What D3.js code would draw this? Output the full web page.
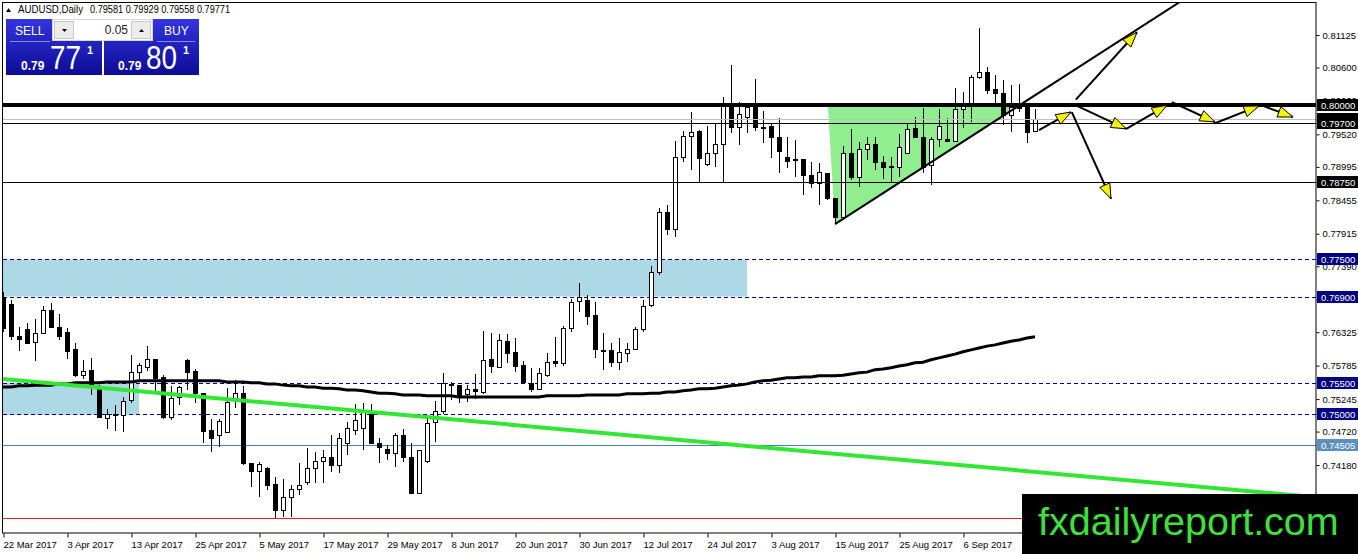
<!DOCTYPE html>
<html>
<head>
<meta charset="utf-8">
<script src="https://cdn.jsdelivr.net/npm/d3@7"></script>
<style>
  body { margin: 0; background: #fff; }
  svg { display: block; }
  text { font-family: "Liberation Sans", Arial, sans-serif; }
</style>
</head>
<body>
<svg id="canvas"></svg>
<script>
// AUDUSD daily candles, one row per bar: [open, high, low, close]
let candles = [
  [0.7689,0.7697,0.7633,0.7639],[0.7678,0.7685,0.7620,0.7626],[0.7626,0.7641,0.7602,0.7622],[0.7638,0.7647,0.7613,0.7615],
  [0.7617,0.7654,0.7586,0.7631],[0.7631,0.7675,0.7630,0.7668],[0.7668,0.7680,0.7639,0.7641],[0.7641,0.7662,0.7620,0.7626],
  [0.7633,0.7639,0.7589,0.7602],[0.7605,0.7615,0.7560,0.7563],[0.7563,0.7588,0.7557,0.7570],[0.7572,0.7591,0.7531,0.7547],
  [0.7546,0.7547,0.7494,0.7496],[0.7494,0.7509,0.7476,0.7500],[0.7500,0.7515,0.7473,0.7499],[0.7499,0.7528,0.7471,0.7521],
  [0.7523,0.7596,0.7518,0.7568],[0.7568,0.7583,0.7557,0.7580],[0.7576,0.7610,0.7570,0.7589],[0.7589,0.7590,0.7536,0.7559],
  [0.7560,0.7563,0.7492,0.7496],[0.7496,0.7546,0.7491,0.7526],[0.7528,0.7546,0.7515,0.7544],[0.7588,0.7589,0.7539,0.7568],
  [0.7570,0.7573,0.7518,0.7534],[0.7534,0.7535,0.7453,0.7473],[0.7475,0.7492,0.7439,0.7462],[0.7466,0.7492,0.7447,0.7489],
  [0.7471,0.7542,0.7470,0.7520],[0.7526,0.7555,0.7510,0.7534],[0.7534,0.7546,0.7418,0.7421],[0.7421,0.7422,0.7382,0.7408],
  [0.7408,0.7423,0.7366,0.7420],[0.7413,0.7414,0.7378,0.7386],[0.7387,0.7399,0.7332,0.7345],[0.7345,0.7395,0.7334,0.7366],
  [0.7366,0.7386,0.7334,0.7379],[0.7379,0.7421,0.7370,0.7386],[0.7391,0.7446,0.7386,0.7413],[0.7413,0.7439,0.7389,0.7424],
  [0.7424,0.7442,0.7389,0.7431],[0.7431,0.7466,0.7407,0.7418],[0.7418,0.7470,0.7405,0.7462],[0.7453,0.7488,0.7434,0.7478],
  [0.7475,0.7517,0.7467,0.7491],[0.7478,0.7518,0.7442,0.7507],[0.7502,0.7517,0.7452,0.7454],[0.7454,0.7462,0.7421,0.7447],
  [0.7444,0.7450,0.7426,0.7437],[0.7437,0.7470,0.7415,0.7466],[0.7466,0.7476,0.7423,0.7431],[0.7431,0.7453,0.7372,0.7373],
  [0.7373,0.7443,0.7372,0.7442],[0.7424,0.7494,0.7421,0.7486],[0.7488,0.7521,0.7455,0.7505],[0.7505,0.7567,0.7500,0.7551],
  [0.7549,0.7552,0.7523,0.7548],[0.7547,0.7548,0.7518,0.7529],[0.7533,0.7547,0.7520,0.7541],[0.7541,0.7565,0.7525,0.7538],
  [0.7536,0.7634,0.7533,0.7588],[0.7589,0.7631,0.7567,0.7578],[0.7576,0.7630,0.7575,0.7620],[0.7618,0.7630,0.7583,0.7599],
  [0.7600,0.7623,0.7568,0.7578],[0.7580,0.7586,0.7550,0.7552],[0.7550,0.7575,0.7536,0.7541],[0.7541,0.7575,0.7539,0.7567],
  [0.7563,0.7599,0.7560,0.7584],[0.7586,0.7625,0.7576,0.7583],[0.7583,0.7643,0.7578,0.7639],[0.7639,0.7686,0.7633,0.7681],
  [0.7683,0.7712,0.7665,0.7689],[0.7685,0.7693,0.7644,0.7659],[0.7660,0.7681,0.7591,0.7605],[0.7604,0.7631,0.7572,0.7602],
  [0.7604,0.7615,0.7576,0.7584],[0.7584,0.7623,0.7572,0.7600],[0.7599,0.7615,0.7584,0.7605],[0.7605,0.7641,0.7604,0.7638],
  [0.7638,0.7685,0.7633,0.7675],[0.7676,0.7739,0.7673,0.7730],[0.7730,0.7833,0.7725,0.7827],[0.7827,0.7838,0.7790,0.7799],
  [0.7799,0.7941,0.7786,0.7916],[0.7916,0.7957,0.7907,0.7949],[0.7949,0.7988,0.7895,0.7956],[0.7957,0.7959,0.7874,0.7914],
  [0.7904,0.7966,0.7901,0.7922],[0.7922,0.7970,0.7899,0.7936],[0.7936,0.8012,0.7874,0.8003],[0.8003,0.8064,0.7954,0.7964],
  [0.7964,0.8004,0.7935,0.7985],[0.7980,0.8003,0.7954,0.7996],[0.7998,0.8041,0.7957,0.7964],[0.7964,0.7990,0.7938,0.7963],
  [0.7966,0.7970,0.7914,0.7948],[0.7948,0.7978,0.7890,0.7925],[0.7916,0.7948,0.7898,0.7909],[0.7912,0.7943,0.7883,0.7911],
  [0.7912,0.7913,0.7854,0.7886],[0.7886,0.7907,0.7865,0.7874],[0.7874,0.7906,0.7838,0.7891],[0.7890,0.7890,0.7846,0.7849],
  [0.7849,0.7850,0.7809,0.7819],[0.7819,0.7933,0.7817,0.7922],[0.7922,0.7961,0.7878,0.7883],[0.7883,0.7940,0.7867,0.7928],
  [0.7928,0.7948,0.7911,0.7936],[0.7936,0.7948,0.7895,0.7907],[0.7907,0.7917,0.7880,0.7899],[0.7901,0.7916,0.7874,0.7899],
  [0.7899,0.7953,0.7883,0.7932],[0.7922,0.7970,0.7921,0.7961],[0.7962,0.7980,0.7947,0.7948],[0.7948,0.7995,0.7890,0.7899],
  [0.7903,0.7948,0.7870,0.7945],[0.7945,0.7993,0.7932,0.7966],[0.7945,0.7978,0.7940,0.7941],[0.7941,0.8027,0.7940,0.7993],
  [0.7993,0.8020,0.7962,0.7998],[0.7998,0.8048,0.7972,0.8045],[0.8045,0.8124,0.8041,0.8053],[0.8053,0.8061,0.8017,0.8024],
  [0.8025,0.8048,0.8003,0.8019],[0.8019,0.8040,0.7967,0.7983],[0.7983,0.8032,0.7956,0.7996],[0.8003,0.8033,0.7988,0.7995],
  [0.7999,0.8000,0.7938,0.7956],[0.79581,0.79929,0.79558,0.79771]
]

// moving average, one value per bar
let movingAverage = [
  0.7544,0.7544,0.7546,0.7546,0.7547,0.7547,0.7547,0.7549,0.7549,0.7551,
  0.7551,0.7551,0.7551,0.7552,0.7552,0.7552,0.7552,0.7554,0.7554,0.7554,
  0.7554,0.7554,0.7554,0.7554,0.7554,0.7554,0.7554,0.7554,0.7552,0.7552,
  0.7552,0.7551,0.7551,0.7549,0.7549,0.7547,0.7546,0.7546,0.7544,0.7544,
  0.7542,0.7542,0.7541,0.7539,0.7539,0.7538,0.7536,0.7534,0.7534,0.7533,
  0.7531,0.7531,0.7531,0.7530,0.7530,0.7530,0.7530,0.7528,0.7528,0.7528,
  0.7528,0.7528,0.7528,0.7528,0.7528,0.7528,0.7528,0.7528,0.7530,0.7530,
  0.7530,0.7530,0.7530,0.7531,0.7531,0.7531,0.7531,0.7531,0.7533,0.7533,
  0.7533,0.7534,0.7534,0.7536,0.7536,0.7538,0.7539,0.7541,0.7541,0.7542,
  0.7544,0.7546,0.7547,0.7549,0.7552,0.7554,0.7555,0.7557,0.7559,0.7559,
  0.7560,0.7560,0.7562,0.7562,0.7562,0.7563,0.7565,0.7567,0.7568,0.7572,
  0.7573,0.7575,0.7578,0.7580,0.7583,0.7584,0.7588,0.7591,0.7594,0.7597,
  0.7601,0.7604,0.7607,0.7610,0.7612,0.7615,0.7618,0.7620,0.7623,0.7625
]

let header = ['AUDUSD,Daily', '0.79581 0.79929 0.79558 0.79771']

let dateLabels = ['22 Mar 2017', '3 Apr 2017', '13 Apr 2017', '25 Apr 2017', '5 May 2017', '17 May 2017',
                  '29 May 2017', '8 Jun 2017', '20 Jun 2017', '30 Jun 2017', '12 Jul 2017', '24 Jul 2017',
                  '3 Aug 2017', '15 Aug 2017', '25 Aug 2017', '6 Sep 2017']
let dateTickBars = [0, 8, 16, 24, 32, 40, 48, 56, 64, 72, 80, 88, 96, 104, 112, 120]

let priceTicks = [0.81125, 0.80600, 0.80060, 0.79520, 0.78995, 0.78455, 0.77915, 0.77390,
                  0.76850, 0.76325, 0.75785, 0.75245, 0.74720, 0.74180, 0.73640]

// horizontal levels
let thickLevel = 0.80000
let bidLevel = 0.79771
let solidLevels = [0.79700, 0.78750]
let dashedLevels = [0.77500, 0.76900, 0.75500, 0.75000]
let blueLevel = 0.74505
let redLevel = 0.73320

// zones: [fromBar, toBar, topPrice, bottomPrice]
let zones = [[-5, 93, 0.7750, 0.7690], [-5, 17, 0.7551, 0.7499]]

// triangle and trend lines: [bar, price]
let triangle = [[103.1, 0.8000], [104, 0.7807], [127.3, 0.8001]]
let risingLine = [[104, 0.7807], [150, 0.8190]]
let greenLine = [[0, 0.7557], [165, 0.7365]]

// arrows: [fromBar, fromPrice, toBar, toPrice]
let arrows = [
  [134.1, 0.8008, 141.75, 0.8117],
  [133.6, 0.7988, 138.5, 0.7848],
  [129.5, 0.7959, 133.5, 0.7988],
  [134.25, 0.7998, 140.4, 0.7961],
  [140.4, 0.7961, 145.5, 0.7999],
  [146.1, 0.8004, 151.5, 0.7972],
  [151.5, 0.7970, 157, 0.7998],
  [157.5, 0.7998, 161.25, 0.7980]
]

let width = 1358
let height = 554
let plotLeft = 3
let plotRight = 1316
let plotTop = 3
let plotBottom = 533

let canvas = d3.select('#canvas')
               .attr('width', width)
               .attr('height', height)

let xScale = d3.scaleLinear().domain([0, 129]).range([3, 1035])
let yScale = d3.scaleLinear().domain([0.74180, 0.81125]).range([465, 35])

canvas.append('defs').append('clipPath')
      .attr('id', 'plot-clip')
      .append('rect')
      .attr('x', plotLeft)
      .attr('y', plotTop)
      .attr('width', plotRight - plotLeft)
      .attr('height', plotBottom - plotTop)

let plot = canvas.append('g').attr('clip-path', 'url(#plot-clip)')

// background objects
plot.selectAll('rect.zone')
    .data(zones)
    .enter()
    .append('rect')
    .attr('class', 'zone')
    .attr('x', d => xScale(d[0]))
    .attr('y', d => yScale(d[2]))
    .attr('width', d => xScale(d[1]) - xScale(d[0]))
    .attr('height', d => yScale(d[3]) - yScale(d[2]))
    .attr('fill', '#add8e6')

plot.append('polygon')
    .attr('points', triangle.map(d => xScale(d[0]) + ',' + yScale(d[1])).join(' '))
    .attr('fill', '#90ee90')

// horizontal levels
let hline = (price, color, w, dash) => {
  let yy = Math.round(yScale(price)) + (w % 2 ? 0.5 : 0)
  plot.append('line')
      .attr('x1', plotLeft).attr('x2', plotRight)
      .attr('y1', yy).attr('y2', yy)
      .attr('stroke', color)
      .attr('stroke-width', w)
      .attr('stroke-dasharray', dash || null)
}

hline(redLevel, '#e02020', 1)
hline(blueLevel, '#4682b4', 1)
dashedLevels.forEach(p => hline(p, '#000080', 1, '4,3'))

// candles
let bars = plot.selectAll('g.bar')
               .data(candles)
               .enter()
               .append('g')
               .attr('class', 'bar')

bars.append('line')
    .attr('x1', (d, i) => Math.round(xScale(i)) + 0.5)
    .attr('x2', (d, i) => Math.round(xScale(i)) + 0.5)
    .attr('y1', d => Math.round(yScale(d[1])))
    .attr('y2', d => Math.round(yScale(d[2])))
    .attr('stroke', '#000')

bars.append('rect')
    .attr('x', (d, i) => Math.round(xScale(i)) - 2 + 0.5)
    .attr('y', d => Math.round(yScale(Math.max(d[0], d[3]))) + 0.5)
    .attr('width', 4)
    .attr('height', d => Math.max(0, Math.round(yScale(Math.min(d[0], d[3]))) - Math.round(yScale(Math.max(d[0], d[3])))))
    .attr('fill', d => d[3] < d[0] ? '#000' : '#fff')
    .attr('stroke', '#000')

hline(bidLevel, '#c0c0c0', 1)
solidLevels.forEach(p => hline(p, '#000', 1))
hline(thickLevel, '#000', 4)

// moving average
plot.append('path')
    .datum(movingAverage)
    .attr('d', d3.line().x((d, i) => xScale(i)).y(d => yScale(d)))
    .attr('fill', 'none')
    .attr('stroke', '#000')
    .attr('stroke-width', 3)

let segment = (pts, color, w) => {
  plot.append('line')
      .attr('x1', xScale(pts[0][0])).attr('y1', yScale(pts[0][1]))
      .attr('x2', xScale(pts[1][0])).attr('y2', yScale(pts[1][1]))
      .attr('stroke', color)
      .attr('stroke-width', w)
}

segment(greenLine, '#33e633', 4)
segment(risingLine, '#000', 2)

// arrows with yellow heads
arrows.forEach(a => {
  let x1 = xScale(a[0]), y1 = yScale(a[1])
  let x2 = xScale(a[2]), y2 = yScale(a[3])
  plot.append('line')
      .attr('x1', x1).attr('y1', y1)
      .attr('x2', x2).attr('y2', y2)
      .attr('stroke', '#000')
      .attr('stroke-width', 2)
  let ang = Math.atan2(y2 - y1, x2 - x1)
  let len = 15, half = 5.5
  let bx = x2 - len * Math.cos(ang), by = y2 - len * Math.sin(ang)
  let px = -Math.sin(ang) * half, py = Math.cos(ang) * half
  plot.append('polygon')
      .attr('points', `${x2},${y2} ${bx + px},${by + py} ${bx - px},${by - py}`)
      .attr('fill', '#f5f500')
      .attr('stroke', '#000')
      .attr('stroke-width', 1)
})

// frame
canvas.append('rect')
      .attr('x', 2.5).attr('y', 2.5)
      .attr('width', plotRight - 2.5).attr('height', plotBottom - 2.5)
      .attr('fill', 'none')
      .attr('stroke', '#000')

// price axis
let yAxis = d3.axisRight(yScale)
              .tickValues(priceTicks)
              .tickFormat(d3.format('.5f'))
              .tickSize(3)
              .tickPadding(3)

let yAxisG = canvas.append('g')
                   .attr('transform', `translate(${plotRight + 0.5}, 0)`)
                   .call(yAxis)
yAxisG.select('.domain').remove()
yAxisG.selectAll('text').style('font-size', '9.5px').attr('fill', '#000')

// level labels on the price axis
let priceLabel = (price, bg) => {
  let yy = Math.round(yScale(price))
  canvas.append('rect')
        .attr('x', plotRight + 1).attr('y', yy - 6)
        .attr('width', width - plotRight - 1).attr('height', 12)
        .attr('fill', bg)
  canvas.append('text')
        .attr('x', plotRight + 5).attr('y', yy + 3.5)
        .attr('fill', '#fff')
        .style('font-size', '9.5px')
        .text(d3.format('.5f')(price))
}

priceLabel(thickLevel, '#000')
priceLabel(bidLevel, '#000')
solidLevels.forEach(p => priceLabel(p, '#000'))
dashedLevels.forEach(p => priceLabel(p, '#000080'))
priceLabel(blueLevel, '#5b8fc0')

// time axis
let xAxis = d3.axisBottom(xScale)
              .tickValues(dateTickBars)
              .tickFormat((d, i) => dateLabels[i])
              .tickSize(4)
              .tickPadding(4)

let xAxisG = canvas.append('g')
                   .attr('transform', `translate(0.5, ${plotBottom + 0.5})`)
                   .call(xAxis)
xAxisG.select('.domain').remove()
xAxisG.selectAll('text')
      .attr('text-anchor', 'start')
      .attr('dx', '-0.5')
      .style('font-size', '9.5px')
      .attr('fill', '#000')

// header
canvas.append('polygon')
      .attr('points', '6,12 11,12 8.5,8')
      .attr('fill', '#000')
canvas.append('text')
      .attr('x', 18).attr('y', 13)
      .style('font-size', '10.5px')
      .attr('textLength', 65).attr('lengthAdjust', 'spacingAndGlyphs')
      .text(header[0])
canvas.append('text')
      .attr('x', 90).attr('y', 13)
      .style('font-size', '10.5px')
      .attr('textLength', 140).attr('lengthAdjust', 'spacingAndGlyphs')
      .text(header[1])

// one click trading panel
let grad = canvas.select('defs').append('linearGradient')
                 .attr('id', 'blue').attr('x1', 0).attr('x2', 0).attr('y1', 0).attr('y2', 1)
grad.append('stop').attr('offset', '0%').attr('stop-color', '#3434e0')
grad.append('stop').attr('offset', '100%').attr('stop-color', '#0c0c96')

let panel = canvas.append('g')
panel.append('rect').attr('x', 6).attr('y', 19).attr('width', 96).attr('height', 56).attr('fill', 'url(#blue)')
panel.append('rect').attr('x', 104).attr('y', 19).attr('width', 95).attr('height', 56).attr('fill', 'url(#blue)')
panel.append('line').attr('x1', 10).attr('x2', 50).attr('y1', 41.5).attr('y2', 41.5).attr('stroke', '#8c8cf0')
panel.append('line').attr('x1', 157).attr('x2', 195).attr('y1', 41.5).attr('y2', 41.5).attr('stroke', '#8c8cf0')

panel.append('rect').attr('x', 52.5).attr('y', 19.5).attr('width', 100).attr('height', 21)
     .attr('fill', '#fff').attr('stroke', '#d8d8d8')
panel.append('rect').attr('x', 54.5).attr('y', 21.5).attr('width', 19).attr('height', 17)
     .attr('fill', '#ececec').attr('stroke', '#c8c8c8')
panel.append('rect').attr('x', 131.5).attr('y', 21.5).attr('width', 19).attr('height', 17)
     .attr('fill', '#ececec').attr('stroke', '#c8c8c8')
panel.append('polygon').attr('points', '62,29 67,29 64.5,32').attr('fill', '#000')
panel.append('polygon').attr('points', '139,32 144,32 141.5,29').attr('fill', '#000')
panel.append('text').attr('x', 128).attr('y', 34).attr('text-anchor', 'end')
     .style('font-size', '12px').attr('fill', '#222').text('0.05')

panel.append('text').attr('x', 15).attr('y', 35).style('font-size', '12px').attr('fill', '#fff').text('SELL')
panel.append('text').attr('x', 164).attr('y', 35).style('font-size', '12px').attr('fill', '#fff').text('BUY')

let quote = (x0, big, x1, x2) => {
  panel.append('text').attr('x', x0).attr('y', 70).style('font-size', '12px')
       .style('font-weight', 'bold').attr('fill', '#fff').text('0.79')
  panel.append('text').attr('x', x1).attr('y', 69).style('font-size', '34px')
       .attr('textLength', 31).attr('lengthAdjust', 'spacingAndGlyphs')
       .attr('fill', '#fff').text(big)
  panel.append('text').attr('x', x2).attr('y', 54).style('font-size', '11px')
       .style('font-weight', 'bold').attr('fill', '#fff').text('1')
}
quote(21, '77', 50, 87)
quote(118, '80', 146, 183)

// watermark
canvas.append('rect').attr('x', 1022).attr('y', 494).attr('width', 336).attr('height', 60).attr('fill', '#000')
canvas.append('text').attr('x', 1038).attr('y', 535)
      .style('font-size', '39.5px').attr('fill', '#3ee03e')
      .text('fxdailyreport.com')
</script>
</body>
</html>
